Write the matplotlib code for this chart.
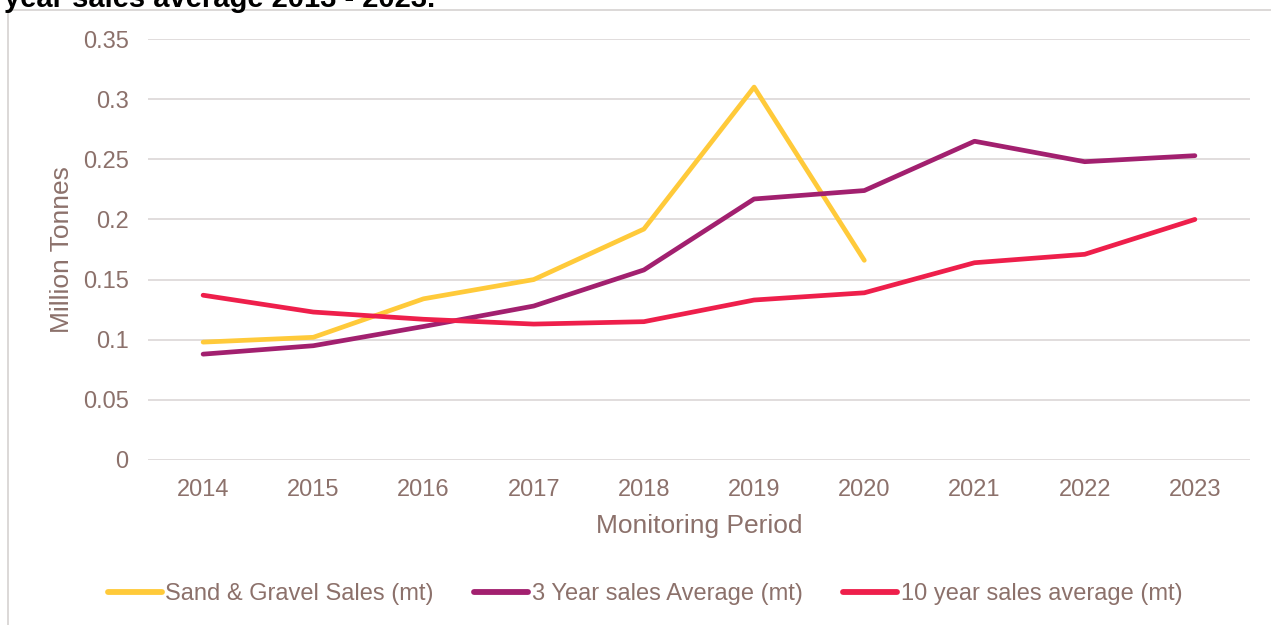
import matplotlib
matplotlib.use("Agg")
import matplotlib.pyplot as plt
from matplotlib.patches import Rectangle

years = ["2014", "2015", "2016", "2017", "2018", "2019", "2020", "2021", "2022", "2023"]
sand_gravel = [0.098, 0.102, 0.134, 0.150, 0.192, 0.310, 0.166]
three_year = [0.088, 0.095, 0.111, 0.128, 0.158, 0.217, 0.224, 0.265, 0.248, 0.253]
ten_year = [0.137, 0.123, 0.117, 0.113, 0.115, 0.133, 0.139, 0.164, 0.171, 0.200]
yticks = [0, 0.05, 0.1, 0.15, 0.2, 0.25, 0.3, 0.35]
ytick_labels = ["0", "0.05", "0.1", "0.15", "0.2", "0.25", "0.3", "0.35"]

plt.rcParams['font.family'] = ['Liberation Sans', 'DejaVu Sans']
txt = '#8C716B'
grid = '#DEDADA'

fig = plt.figure(figsize=(12.71, 6.25), dpi=100)
fig.patch.set_facecolor('white')

# outer chart frame
fig.patches.append(Rectangle((8 / 1271, -0.05), 1.1, 1 - 10 / 625 + 0.05,
                             transform=fig.transFigure, fill=False,
                             edgecolor='#D9D5D4', linewidth=1.3, zorder=0))
fig.text(0.003, 1 - 7 / 625, "year sales average 2013 - 2023.", fontsize=21,
         fontweight='bold', color='black', va='baseline', ha='left')

ax = fig.add_axes([148 / 1271, 1 - 460 / 625, (1250 - 148) / 1271, (460 - 39) / 625])
x = list(range(len(years)))
ax.plot(x[:len(sand_gravel)], sand_gravel, color='#FFCA3A', lw=3.4,
        solid_capstyle='round', solid_joinstyle='round', label='Sand & Gravel Sales (mt)')
ax.plot(x, three_year, color='#A2206F', lw=3.4,
        solid_capstyle='round', solid_joinstyle='round', label='3 Year sales Average (mt)')
ax.plot(x, ten_year, color='#EE1F4B', lw=3.4,
        solid_capstyle='round', solid_joinstyle='round', label='10 year sales average (mt)')

ax.set_xlim(-0.5, len(years) - 0.5)
ax.set_ylim(0, 0.35)
ax.set_yticks(yticks)
ax.set_yticklabels(ytick_labels)
ax.set_xticks(x)
ax.set_xticklabels(years)
ax.tick_params(axis='both', length=0, labelsize=17, colors=txt)
ax.tick_params(axis='y', pad=14)
ax.tick_params(axis='x', pad=14)
for s in ax.spines.values():
    s.set_visible(False)
ax.yaxis.grid(True, color=grid, lw=1.3)
ax.set_axisbelow(True)
ax.set_ylabel("Million Tonnes", fontsize=19, color=txt, labelpad=6)
ax.set_xlabel("Monitoring Period", fontsize=19, color=txt, labelpad=9)

leg = fig.legend(loc='center', bbox_to_anchor=(645 / 1271, 1 - 594 / 625), ncol=3,
                 frameon=False, fontsize=17, handlelength=2.3, handletextpad=0.15,
                 columnspacing=1.7)
for t in leg.get_texts():
    t.set_color(txt)
for l in leg.get_lines():
    l.set_linewidth(4.2)
    l.set_solid_capstyle('round')

fig.savefig("out.png", dpi=100, facecolor='white')
